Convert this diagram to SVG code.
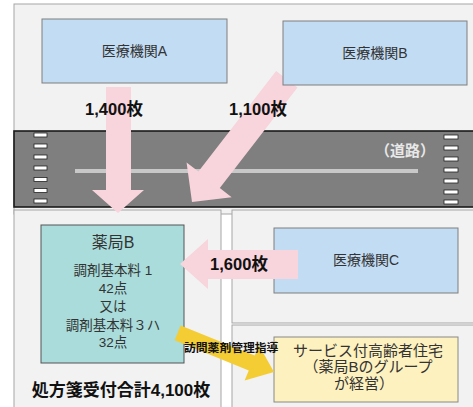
<svg xmlns="http://www.w3.org/2000/svg" width="473" height="407" viewBox="0 0 473 407">
<style>
.panel{fill:#f2f2f2;stroke:#a6a6a6;stroke-width:1}
.blue{fill:#c2dcf4;stroke:#7f7f7f;stroke-width:1}
.t{font-family:"Liberation Sans","Noto Sans CJK JP",sans-serif;fill:#333;text-anchor:middle}
.b{font-family:"Liberation Sans","Noto Sans CJK JP",sans-serif;font-weight:bold;fill:#111;text-anchor:middle}
.pink{fill:#f8d4dc}
.dash{fill:#fff;stroke:#222;stroke-width:0.8}
</style>
<rect width="473" height="407" fill="#fff"/>
<g id="background">
<rect class="panel" x="14" y="4" width="470" height="210"/>
<rect class="panel" x="14" y="210" width="207" height="210"/>
<rect class="panel" x="232" y="210" width="250" height="113"/>
<rect class="panel" x="232" y="325" width="250" height="90"/>
<rect x="14" y="131" width="470" height="76" fill="#7f7f7f" stroke="#1a1a1a" stroke-width="1.6"/>
<line x1="75" y1="171" x2="418" y2="171" stroke="#c8c8c8" stroke-width="4"/>
<g>
<rect class="dash" x="34" y="133" width="13" height="4"/>
<rect class="dash" x="34" y="144" width="13" height="4"/>
<rect class="dash" x="34" y="155" width="13" height="4"/>
<rect class="dash" x="34" y="166" width="13" height="4"/>
<rect class="dash" x="34" y="177.5" width="13" height="4"/>
<rect class="dash" x="34" y="188.5" width="13" height="4"/>
<rect class="dash" x="34" y="199" width="13" height="4"/>
<rect class="dash" x="444" y="135" width="14" height="4"/>
<rect class="dash" x="444" y="146" width="14" height="4"/>
<rect class="dash" x="444" y="157" width="14" height="4"/>
<rect class="dash" x="444" y="168" width="14" height="4"/>
<rect class="dash" x="444" y="179" width="14" height="4"/>
<rect class="dash" x="444" y="190" width="14" height="4"/>
<rect class="dash" x="444" y="200" width="14" height="4"/>
</g>
<text class="b" x="405" y="155.5" font-size="15" style="fill:#e8e8e8">（道路）</text>
<text class="b" x="121" y="396" font-size="17">処方箋受付合計4,100枚</text>
</g>
<g id="iryoC">
<rect class="blue" x="274" y="228" width="184" height="65"/>
<text class="t" x="366" y="265" font-size="14">医療機関C</text>
</g>
<g id="yakkyokuB">
<rect x="41" y="225" width="143" height="138" fill="#a9dcdb" stroke="#555" stroke-width="1"/>
<text class="t" x="113" y="248" font-size="16">薬局B</text>
<text class="t" x="113" y="275" font-size="13.5">調剤基本料 1</text>
<text class="t" x="113" y="293" font-size="13.5">42点</text>
<text class="t" x="113" y="311" font-size="13.5">又は</text>
<text class="t" x="113" y="330" font-size="13.5">調剤基本料３ハ</text>
<text class="t" x="113" y="347" font-size="13.5">32点</text>
</g>
<g id="sakoju">
<rect x="274" y="337" width="184" height="65" fill="#fdf1bf" stroke="#888" stroke-width="1"/>
<text class="t" x="368" y="356" font-size="15">サービス付高齢者住宅</text>
<text class="t" x="368" y="372" font-size="15">（薬局Bのグループ</text>
<text class="t" x="364" y="389" font-size="15">が経営）</text>
</g>
<g id="connectors">
<polygon class="pink" points="106,87 131,87 131,190 144,190 118,213 92,190 106,190"/>
<polygon class="pink" transform="translate(192,202) rotate(127.7)" points="0,0 -28,-28.5 -28,-13.5 -155,-13.5 -155,13.5 -28,13.5 -28,28.5"/>
<polygon class="pink" points="180,264 208,239 208,250 298,250 298,279 208,279 208,289"/>
<polygon fill="#f4cd35" transform="translate(274,372) rotate(22.1)" points="0,0 -24,-19 -24,-8 -104,-8 -104,8 -24,8 -24,19"/>
<text class="b" x="114" y="115" font-size="16.5">1,400枚</text>
<text class="b" x="258" y="115" font-size="16.5">1,100枚</text>
<text class="b" x="239" y="270" font-size="16.5">1,600枚</text>
<text class="b" x="184" y="352" font-size="11.8" style="text-anchor:start">訪問薬剤管理指導</text>
</g>
<g id="iryoA">
<rect class="blue" x="42" y="19" width="185" height="64"/>
<text class="t" x="134.5" y="56" font-size="14">医療機関A</text>
</g>
<g id="iryoB">
<rect class="blue" x="283" y="21" width="184" height="64"/>
<text class="t" x="375" y="58" font-size="14">医療機関B</text>
</g>
</svg>
